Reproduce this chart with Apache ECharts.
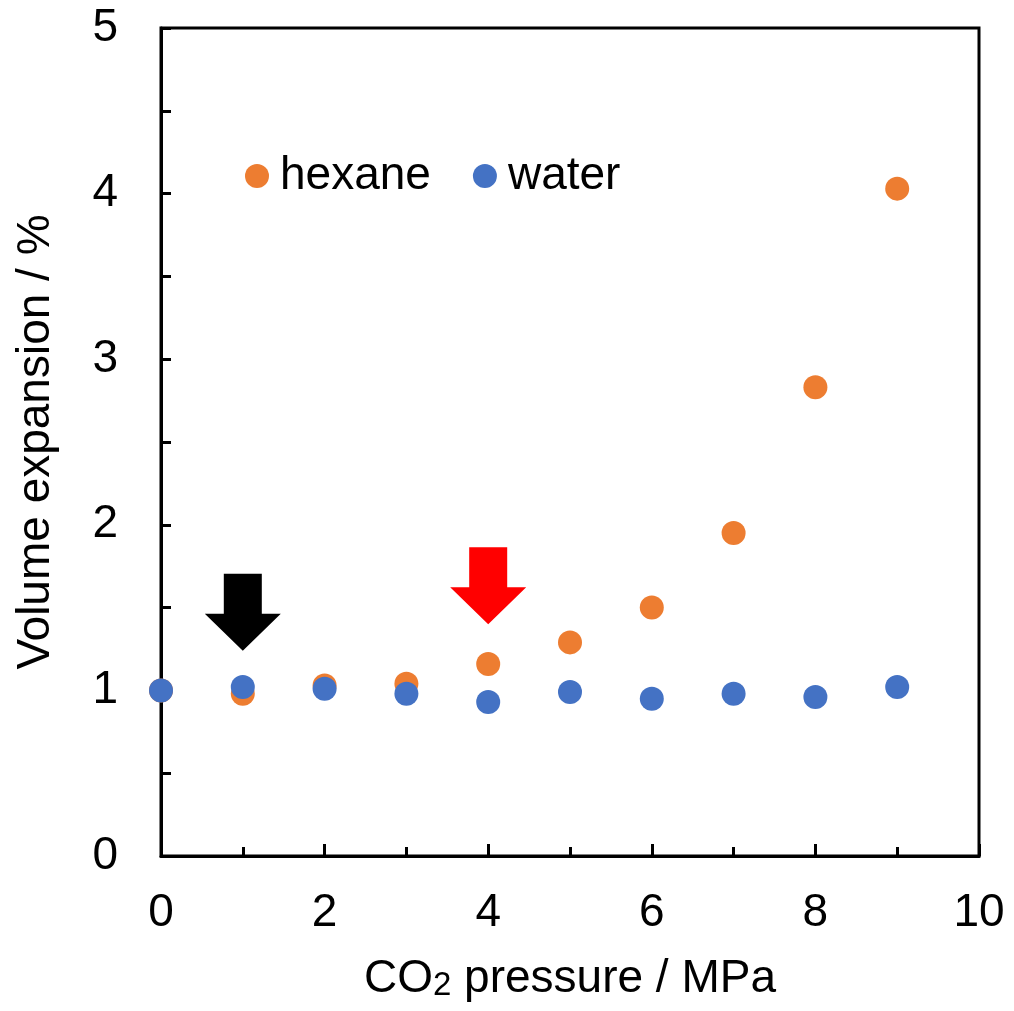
<!DOCTYPE html>
<html>
<head>
<meta charset="utf-8">
<script src="https://cdn.jsdelivr.net/npm/echarts@6/dist/echarts.min.js"></script>
<style>
  html, body { margin: 0; padding: 0; background: #fff; }
  #chart { width: 1014px; height: 1011px; }
</style>
</head>
<body>
<div id="chart"></div>
<script>
// CO2 pressure (MPa)
const pressure = [0, 1, 2, 3, 4, 5, 6, 7, 8, 9]
// volume expansion
const hexane = [1.00, 0.98, 1.03, 1.04, 1.16, 1.29, 1.50, 1.95, 2.83, 4.03]
const water = [1.00, 1.02, 1.01, 0.98, 0.93, 0.99, 0.95, 0.98, 0.96, 1.02]
// arrows: x position and y value of the tip
const arrowX = [1, 4]
const arrowTip = [1.24, 1.40]
const arrowColors = ['#000000', '#ff0000']

const FONT = '"Liberation Sans", Arial, sans-serif'
const arrowPath = 'path://M19,0 L57,0 L57,40 L76,40 L38,77 L0,40 L19,40 Z'

const chart = echarts.init(document.getElementById('chart'))

const zip = (xs, ys) => xs.map((x, i) => [x, ys[i]])

chart.setOption({
    animation: false,
    backgroundColor: '#fff',
    textStyle: { fontFamily: FONT },
    grid: {
        left: 161,
        right: 35,
        top: 28,
        bottom: 155,
        show: true,
        borderColor: '#000',
        borderWidth: 3,
    },
    legend: {
        data: ['hexane', 'water'],
        left: 240,
        top: 148,
        icon: 'circle',
        itemWidth: 24,
        itemHeight: 24,
        itemGap: 42,
        textStyle: {
            fontSize: 46,
            color: '#000',
            fontFamily: FONT,
            lineHeight: 46,
            padding: [0, 0, 0, 6],
        },
    },
    xAxis: {
        type: 'value',
        min: 0,
        max: 10,
        interval: 2,
        name: '{a|CO}{s|2}{a| pressure / MPa}',
        nameLocation: 'middle',
        nameGap: 100,
        nameTextStyle: {
            rich: {
                a: { fontSize: 46, color: '#000', fontFamily: FONT, lineHeight: 46 },
                s: { fontSize: 33, color: '#000', fontFamily: FONT, lineHeight: 46, padding: [14, 0, 0, 0] },
            },
        },
        axisLine: { lineStyle: { color: '#000', width: 3 } },
        axisTick: { inside: true, length: 12, lineStyle: { color: '#000', width: 3 } },
        minorTick: { show: true, splitNumber: 2, length: 9, lineStyle: { color: '#000', width: 3 } },
        splitLine: { show: false },
        axisLabel: { fontSize: 46, color: '#000', fontFamily: FONT, lineHeight: 46, margin: 34 },
    },
    yAxis: {
        type: 'value',
        min: 0,
        max: 5,
        interval: 1,
        name: 'Volume expansion / %',
        nameLocation: 'middle',
        nameGap: 102,
        nameTextStyle: { fontSize: 46, color: '#000', fontFamily: FONT, lineHeight: 46 },
        axisLine: { lineStyle: { color: '#000', width: 3 } },
        axisTick: { inside: true, length: 10, lineStyle: { color: '#000', width: 3 } },
        minorTick: { show: true, splitNumber: 2, length: 10, lineStyle: { color: '#000', width: 3 } },
        splitLine: { show: false },
        axisLabel: { fontSize: 46, color: '#000', fontFamily: FONT, margin: 43 },
    },
    series: [
        {
            name: 'hexane',
            type: 'scatter',
            symbolSize: 24,
            itemStyle: { color: '#ED7D31', opacity: 1 },
            data: zip(pressure, hexane),
        },
        {
            name: 'water',
            type: 'scatter',
            symbolSize: 24,
            itemStyle: { color: '#4472C4', opacity: 1 },
            data: zip(pressure, water),
        },
        {
            name: 'arrows',
            type: 'scatter',
            symbol: arrowPath,
            symbolSize: [76, 77],
            symbolOffset: [0, '-50%'],
            silent: true,
            data: arrowX.map((x, i) => ({
                value: [x, arrowTip[i]],
                itemStyle: { color: arrowColors[i], opacity: 1 },
            })),
        },
    ],
})
</script>
</body>
</html>
